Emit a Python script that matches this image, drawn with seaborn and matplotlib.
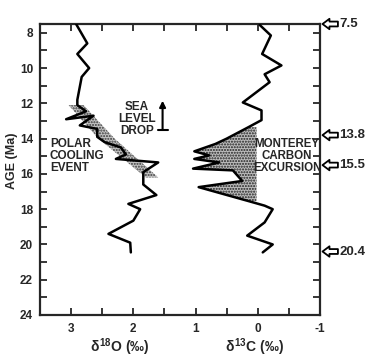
import matplotlib
matplotlib.use('Agg')
import matplotlib.pyplot as plt
import matplotlib.patches as mpatches
import numpy as np
import pandas as pd
import seaborn as sns

# ---------------- data ----------------
o18_age = [7.5, 8.6, 9.2, 10.0, 10.5, 11.8, 12.1, 12.45, 12.9, 12.7, 13.25, 13.45, 13.9,
           14.2, 14.5, 14.9, 15.15, 15.35, 15.9, 16.6, 17.2, 17.7, 18.0, 18.65, 19.4,
           19.9, 20.45]
o18_val = [2.92, 2.74, 2.90, 2.71, 2.83, 2.90, 2.90, 2.76, 3.08, 2.64, 2.86, 2.58, 2.58,
           2.46, 2.20, 2.12, 2.28, 1.60, 1.84, 1.84, 1.63, 2.08, 1.89, 2.00, 2.40,
           2.05, 2.04]

c13_age = [7.55, 8.15, 9.2, 9.85, 10.35, 10.8, 11.95, 12.4, 12.95, 13.35, 14.0, 14.3,
           14.72, 14.95, 15.15, 15.35, 15.7, 15.8, 16.4, 16.75, 17.55, 17.8, 18.0, 18.75,
           19.5, 20.0, 20.45]
c13_val = [-0.03, -0.21, -0.07, -0.38, -0.11, -0.19, 0.24, -0.06, -0.06, 0.15, 0.50, 0.68,
           1.02, 0.78, 1.02, 0.62, 1.04, 0.40, 0.25, 0.95, 0.14, -0.11, -0.24, -0.11,
           0.17, -0.24, -0.08]

band_age = [12.1, 14.0, 16.2]
band_left = [3.04, 2.56, 1.80]
band_right = [2.80, 2.30, 1.60]

excursion_top = 13.35
excursion_bottom = 17.55
excursion_edge = 0.02

event_ages = [7.5, 13.8, 15.5, 20.4]
event_labels = ['7.5', '13.8', '15.5', '20.4']

age_ticks = list(range(8, 25))
age_labels = [str(a) if a % 2 == 0 else '' for a in age_ticks]
x_ticks = [3, 2.5, 2, 1.5, 1, 0.5, 0, -0.5, -1]
x_labels = ['3', '', '2', '', '1', '', '0', '', '-1']

# ---------------- style ----------------
sns.set_style('ticks')
plt.rcParams['font.family'] = ['Liberation Sans', 'DejaVu Sans']
plt.rcParams['font.weight'] = 'bold'
plt.rcParams['mathtext.fontset'] = 'custom'
plt.rcParams['mathtext.rm'] = 'Liberation Sans:bold'
plt.rcParams['mathtext.it'] = 'Liberation Sans:bold'
plt.rcParams['mathtext.bf'] = 'Liberation Sans:bold'
plt.rcParams['hatch.linewidth'] = 1.0

fig = plt.figure(figsize=(3.71, 3.60), dpi=100)
ax = fig.add_axes([40 / 371, 1 - 315 / 360, 280 / 371, 291 / 360])

o18 = pd.DataFrame({'age': o18_age, 'val': o18_val})
c13 = pd.DataFrame({'age': c13_age, 'val': c13_val})

# stippled band (polar cooling)
ax.fill_betweenx(band_age, band_left, band_right, facecolor='#c4c4c4',
                 edgecolor='#383838', hatch='......', linewidth=0, zorder=1)

# stippled Monterey excursion
c_age = np.array(c13_age)
c_val = np.array(c13_val)
mask = (c_age >= excursion_top) & (c_age <= excursion_bottom)
ax.fill_betweenx(c_age, c_val, excursion_edge, where=mask, facecolor='#bdbdbd',
                 edgecolor='#202020', hatch='......', linewidth=0, zorder=1)

sns.lineplot(data=o18, x='val', y='age', sort=False, estimator=None, color='black',
             linewidth=1.8, ax=ax, zorder=3)
sns.lineplot(data=c13, x='val', y='age', sort=False, estimator=None, color='black',
             linewidth=1.8, ax=ax, zorder=3)

ax.set_xlim(3.5, -1)
ax.set_ylim(24, 7.5)
ax.set_yticks(age_ticks)
ax.set_yticklabels(age_labels)
ax.set_xticks(x_ticks)
ax.set_xticklabels(x_labels)
ax.tick_params(direction='in', length=5, width=1.3, top=True, right=True,
               labelsize=8.5, pad=6)
ax.tick_params(axis='y', pad=5)
for lab in ax.get_xticklabels() + ax.get_yticklabels():
    lab.set_fontweight('bold')
for sp in ax.spines.values():
    sp.set_linewidth(1.6)
    sp.set_visible(True)

ax.set_xlabel('')
ax.set_ylabel('AGE (Ma)', fontsize=9, fontweight='bold')
ax.yaxis.set_label_coords(-0.08, 0.53)

# bottom axis titles
ax.text(2.22, -0.11, r'$\delta^{18}$O (‰)', transform=ax.get_xaxis_transform(),
        ha='center', va='center', fontsize=10, fontweight='bold')
ax.text(0.06, -0.11, r'$\delta^{13}$C (‰)', transform=ax.get_xaxis_transform(),
        ha='center', va='center', fontsize=10, fontweight='bold')

# annotations
ax.text(1.94, 12.9, 'SEA\nLEVEL\nDROP', ha='center', va='center', fontsize=8.5,
        fontweight='bold', linespacing=1.0)
ax.annotate('', xy=(1.53, 11.85), xytext=(1.53, 13.5),
            arrowprops=dict(arrowstyle='-|>', lw=1.5, color='black',
                            mutation_scale=9, shrinkA=0, shrinkB=0))
ax.plot([1.45, 1.61], [13.5, 13.5], color='black', lw=1.5)

ax.text(3.34, 15.0, 'POLAR\nCOOLING\nEVENT', ha='left', va='center', fontsize=8.5,
        fontweight='bold', linespacing=1.0)
ax.text(-0.47, 15.0, 'MONTEREY\nCARBON\nEXCURSION', ha='center', va='center',
        fontsize=8.3, fontweight='bold', linespacing=1.0)

# event arrows on the right
tr = ax.get_yaxis_transform()
for a, lab in zip(event_ages, event_labels):
    ax.annotate('', xy=(1.009, a), xytext=(1.064, a), xycoords=tr, textcoords=tr,
                annotation_clip=False,
                arrowprops=dict(arrowstyle=mpatches.ArrowStyle.Simple(
                    head_length=0.5, head_width=0.75, tail_width=0.35),
                    fc='white', ec='black', lw=1.3, mutation_scale=10,
                    shrinkA=0, shrinkB=0))
    ax.text(1.07, a, lab, transform=tr, ha='left', va='center', fontsize=9.5,
            fontweight='bold', clip_on=False)

fig.savefig('out.png', dpi=100)
